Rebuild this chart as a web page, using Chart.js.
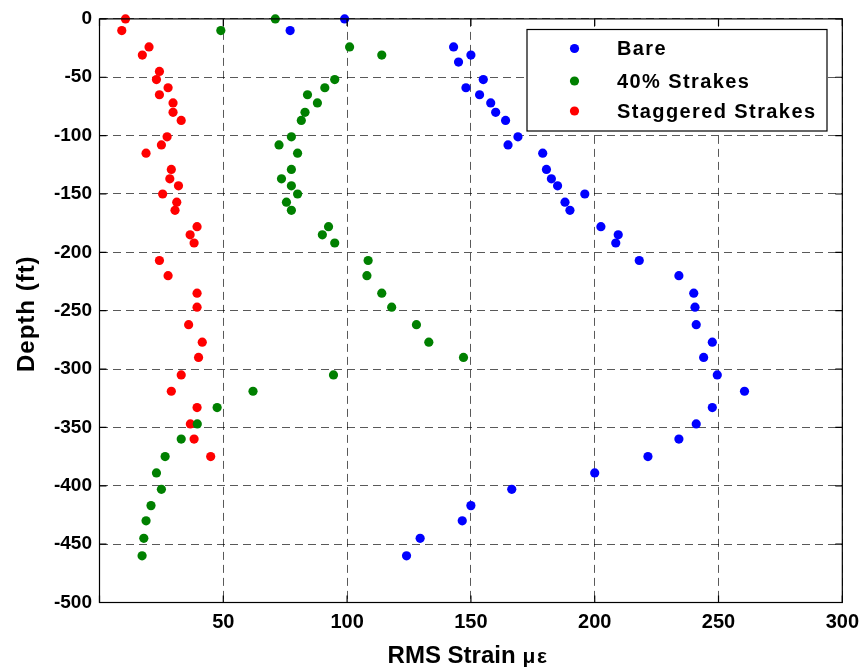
<!DOCTYPE html>
<html>
<head>
<meta charset="utf-8">
<script src="https://cdn.jsdelivr.net/npm/chart.js"></script>
<style>
  html, body { margin: 0; padding: 0; background: #fff; }
  #wrap { width: 867px; height: 671px; }
</style>
</head>
<body>
<div id="wrap"><canvas id="chart" width="867" height="671"></canvas></div>
<script>
// depth (ft) and RMS strain (micro-strain)
const bareDepth = [0, -10, -24, -31, -37, -52, -59, -65, -72, -80, -87, -101, -108, -115, -129, -137, -143, -150, -157, -164, -178, -185, -192, -207, -220, -235, -247, -262, -277, -290, -305, -319, -333, -347, -360, -375, -389, -403, -417, -430, -445, -460];
const bareStrain = [99, 77, 143, 150, 145, 155, 148, 153.5, 158, 160, 164, 169, 165, 179, 180.5, 182.5, 185, 196, 188, 190, 202.5, 209.5, 208.5, 218, 234, 240, 240.5, 241, 247.5, 244, 249.5, 260.5, 247.5, 241, 234, 221.5, 200, 166.5, 150, 146.5, 129.5, 124];

const strakeDepth = [0, -10, -24, -31, -52, -59, -65, -72, -80, -87, -101, -108, -115, -129, -137, -143, -150, -157, -164, -178, -185, -192, -207, -220, -235, -247, -262, -277, -290, -305, -319, -333, -347, -360, -375, -389, -403, -417, -430, -445, -460];
const strakeStrain = [71, 49, 101, 114, 95, 91, 84, 88, 83, 81.5, 77.5, 72.5, 80, 77.5, 73.5, 77.5, 80, 75.5, 77.5, 92.5, 90, 95, 108.5, 108, 114, 118, 128, 133, 147, 94.5, 62, 47.5, 39.5, 33, 26.5, 23, 25, 20.8, 18.8, 17.9, 17.2];

const staggerDepth = [0, -10, -24, -31, -45, -52, -59, -65, -72, -80, -87, -101, -108, -115, -129, -137, -143, -150, -157, -164, -178, -185, -192, -207, -220, -235, -247, -262, -277, -290, -305, -319, -333, -347, -360, -375];
const staggerStrain = [10.5, 9, 20, 17.3, 24.2, 23, 27.7, 24.2, 29.7, 29.7, 33, 27.3, 25, 18.8, 29, 28.4, 31.9, 25.5, 31.2, 30.5, 39.4, 36.6, 38.2, 24.2, 27.7, 39.4, 39.4, 36, 41.5, 40, 33, 29, 39.4, 36.7, 38.2, 44.9];

const seriesNames = ["Bare", "40% Strakes", "Staggered Strakes"];
const seriesColors = ["#0000ff", "#008000", "#ff0000"];
const xTicks = [0, 50, 100, 150, 200, 250, 300];
const yTicks = [0, -50, -100, -150, -200, -250, -300, -350, -400, -450, -500];

const FONT = "'Liberation Sans', Arial, sans-serif";

const toPoints = (xs, ys) => xs.map((x, i) => ({ x: x, y: ys[i] }));

// frame, inward ticks, axis titles and legend, matlab style
const matlabDecor = {
    id: "matlabDecor",
    afterDraw(chart) {
        const ctx = chart.ctx;
        const { left, right, top, bottom } = chart.chartArea;
        const xs = chart.scales.x, ys = chart.scales.y;
        ctx.save();

        ctx.strokeStyle = "#000";
        ctx.lineWidth = 1.2;
        ctx.strokeRect(left, top, right - left, bottom - top);

        ctx.beginPath();
        xTicks.forEach(v => {
            const px = xs.getPixelForValue(v);
            ctx.moveTo(px, bottom); ctx.lineTo(px, bottom - 7);
            ctx.moveTo(px, top); ctx.lineTo(px, top + 7);
        });
        yTicks.forEach(v => {
            const py = ys.getPixelForValue(v);
            ctx.moveTo(left, py); ctx.lineTo(left + 7, py);
            ctx.moveTo(right, py); ctx.lineTo(right - 7, py);
        });
        ctx.stroke();

        ctx.fillStyle = "#000";

        // y title
        ctx.save();
        ctx.translate(27, (top + bottom) / 2 + 3);
        ctx.rotate(-Math.PI / 2);
        ctx.font = "bold 24px " + FONT;
        ctx.letterSpacing = "1px";
        ctx.textAlign = "center";
        ctx.textBaseline = "middle";
        ctx.fillText("Depth (ft)", 0, 0);
        ctx.restore();

        // x title, with the smaller unit after it
        ctx.textBaseline = "alphabetic";
        ctx.textAlign = "left";
        ctx.font = "bold 24px " + FONT;
        const main = "RMS Strain";
        const w1 = ctx.measureText(main).width;
        ctx.font = "bold 21px " + FONT;
        ctx.letterSpacing = "1.5px";
        const w2 = ctx.measureText("με").width;
        const gap = 7;
        const x0 = 468 - (w1 + gap + w2) / 2;
        ctx.letterSpacing = "0px";
        ctx.font = "bold 24px " + FONT;
        ctx.fillText(main, x0, 663);
        ctx.font = "bold 21px " + FONT;
        ctx.letterSpacing = "1.5px";
        ctx.fillText("με", x0 + w1 + gap, 663);
        ctx.letterSpacing = "0px";

        // legend box
        const bx = 527, by = 29.5, bw = 300, bh = 101.5;
        ctx.fillStyle = "#fff";
        ctx.fillRect(bx, by, bw, bh);
        ctx.strokeStyle = "#000";
        ctx.lineWidth = 1.2;
        ctx.strokeRect(bx, by, bw, bh);
        const rows = [48.5, 81, 111];
        ctx.font = "bold 20px " + FONT;
        ctx.letterSpacing = "1.4px";
        ctx.textBaseline = "middle";
        seriesNames.forEach((name, i) => {
            ctx.fillStyle = seriesColors[i];
            ctx.beginPath();
            ctx.arc(574.5, rows[i], 4.6, 0, Math.PI * 2);
            ctx.fill();
            ctx.fillStyle = "#000";
            ctx.fillText(name, 617, rows[i] + 1);
        });
        ctx.restore();
    }
};

const ctx = document.getElementById("chart").getContext("2d");
new Chart(ctx, {
    type: "scatter",
    data: {
        datasets: [
            { label: seriesNames[0], data: toPoints(bareStrain, bareDepth), backgroundColor: seriesColors[0] },
            { label: seriesNames[1], data: toPoints(strakeStrain, strakeDepth), backgroundColor: seriesColors[1] },
            { label: seriesNames[2], data: toPoints(staggerStrain, staggerDepth), backgroundColor: seriesColors[2] }
        ].map(d => Object.assign(d, { pointRadius: 4.6, borderWidth: 0, clip: false }))
    },
    options: {
        responsive: false,
        devicePixelRatio: 1,
        animation: false,
        layout: { padding: { top: 16.5, right: 23.5, left: 0, bottom: 0 } },
        plugins: {
            legend: { display: false },
            tooltip: { enabled: false }
        },
        scales: {
            x: {
                type: "linear",
                min: 0,
                max: 300,
                afterFit: s => { s.height = 68.5; },
                afterBuildTicks: s => { s.ticks = xTicks.map(v => ({ value: v })); },
                ticks: {
                    padding: 8,
                    color: "#000",
                    font: { family: FONT, size: 20, weight: "bold" },
                    callback: v => (v === 0 ? "" : v)
                },
                grid: { color: "rgba(0,0,0,0.65)", lineWidth: 1, drawTicks: false },
                border: { display: false, dash: [8, 5] }
            },
            y: {
                type: "linear",
                min: -500,
                max: 0,
                afterFit: s => { s.width = 99.5; },
                afterBuildTicks: s => { s.ticks = yTicks.map(v => ({ value: v })); },
                ticks: {
                    padding: 7.5,
                    color: "#000",
                    font: { family: FONT, size: 19, weight: "bold" }
                },
                grid: { color: "rgba(0,0,0,0.65)", lineWidth: 1, drawTicks: false },
                border: { display: false, dash: [8, 5] }
            }
        }
    },
    plugins: [matlabDecor]
});
</script>
</body>
</html>
